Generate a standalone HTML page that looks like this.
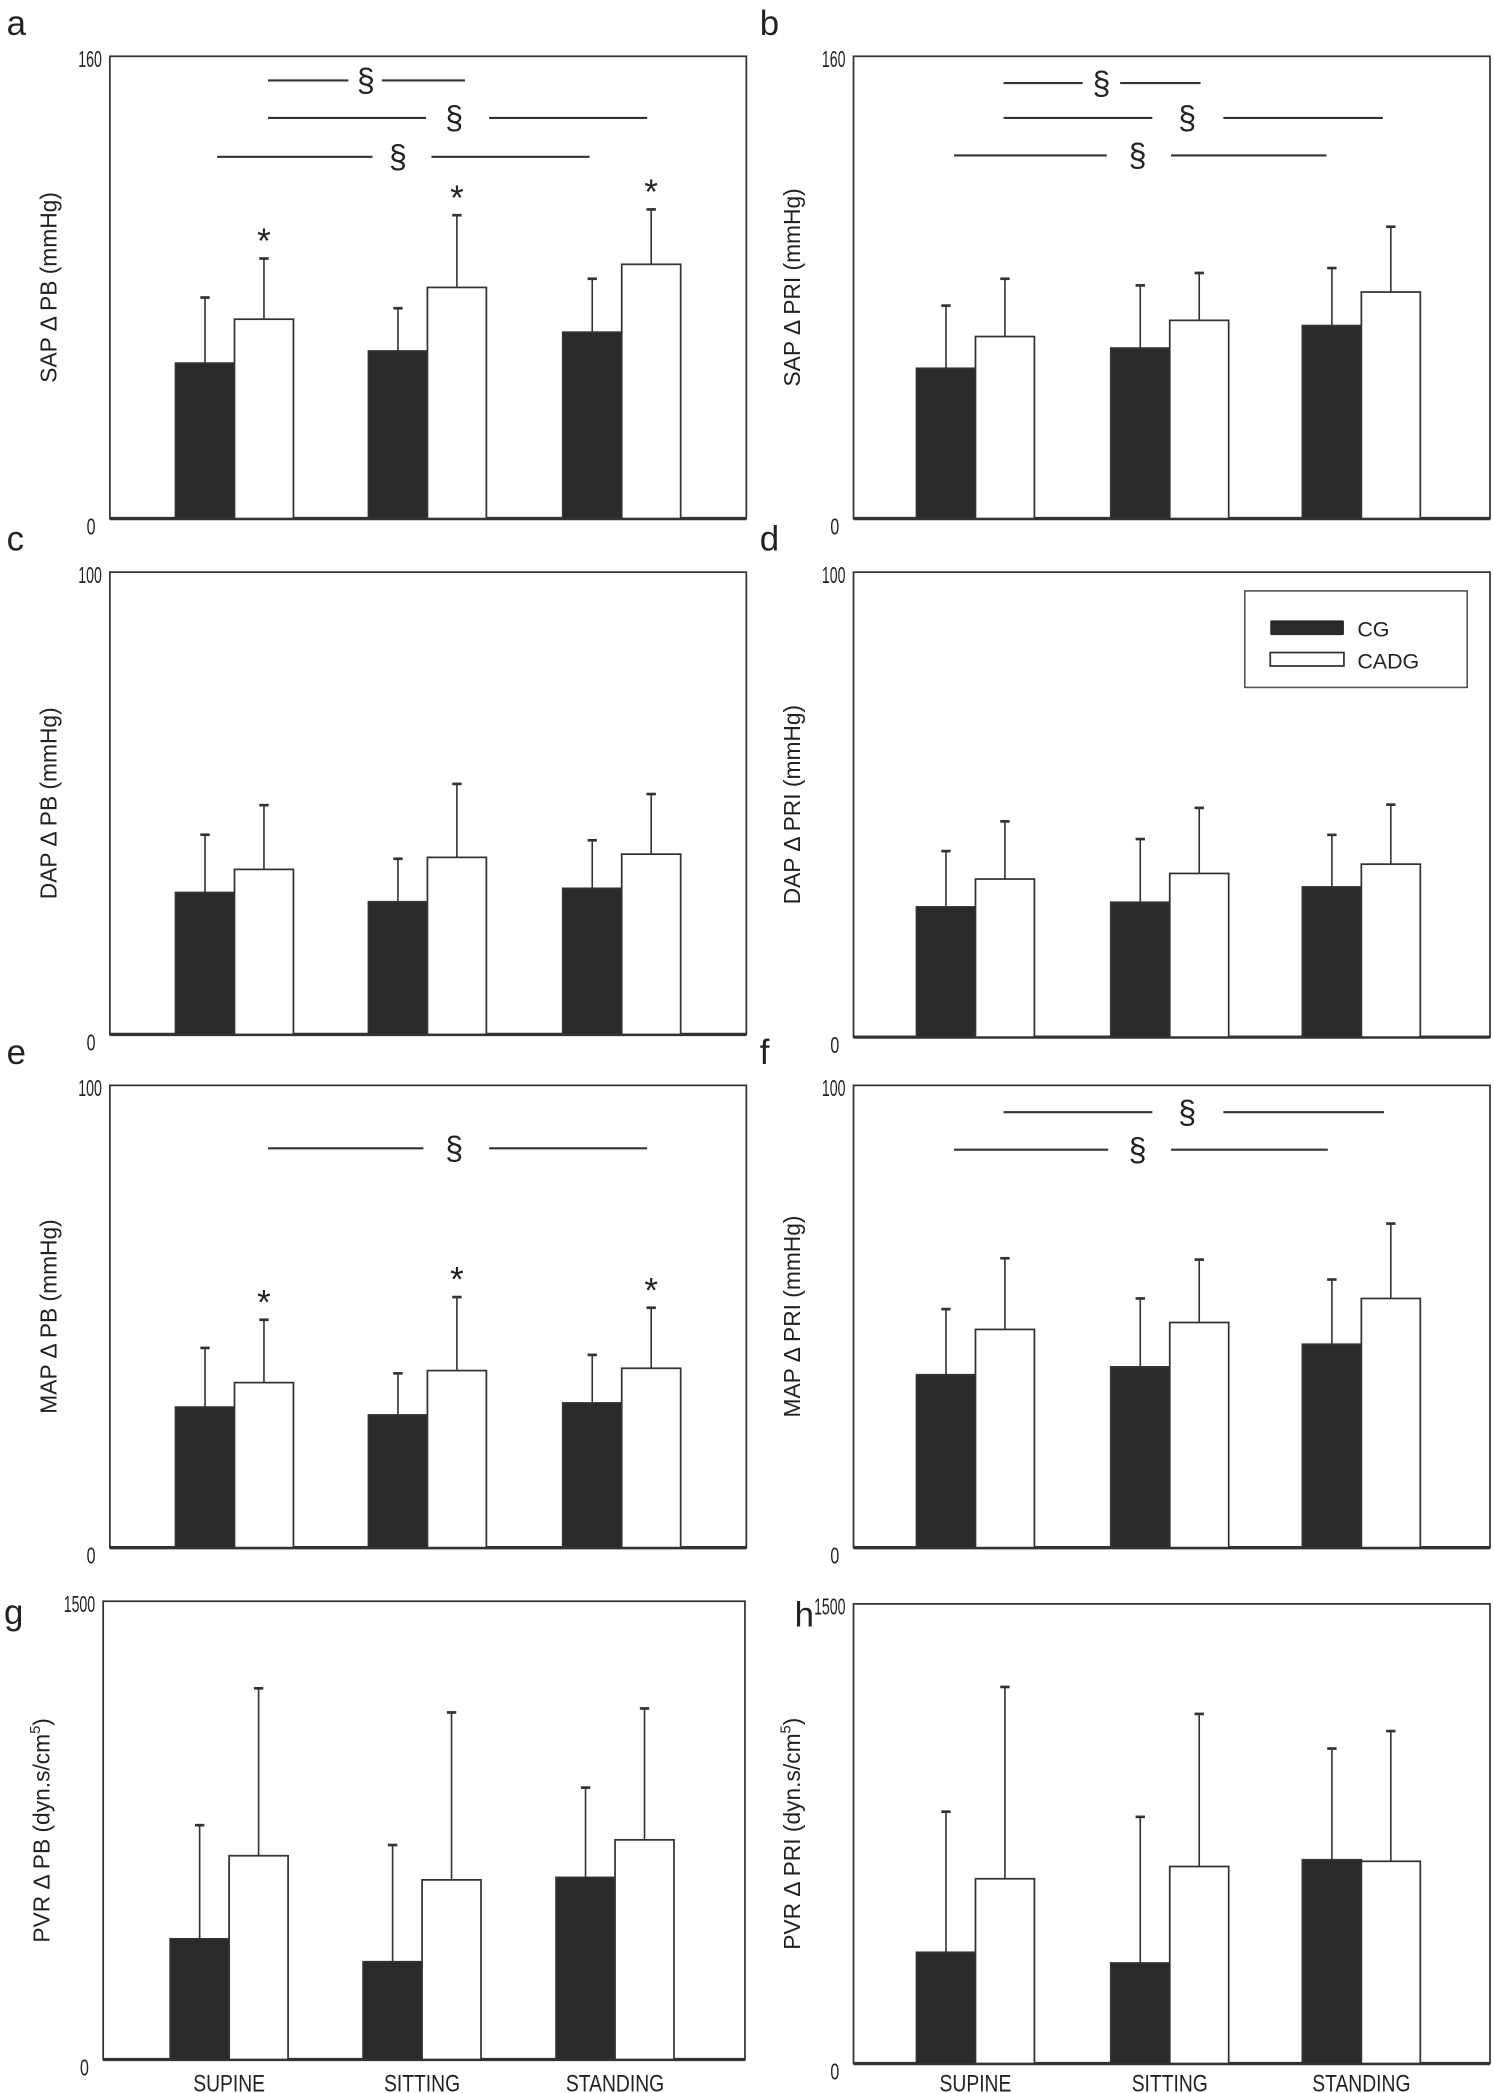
<!DOCTYPE html>
<html><head><meta charset="utf-8"><style>
html,body{margin:0;padding:0;background:#fff}
svg{display:block}
text{font-family:"Liberation Sans",sans-serif;fill:#222}
</style></head><body>
<svg id="fig" width="1494" height="2093" viewBox="0 0 1115 1562" preserveAspectRatio="none" xmlns="http://www.w3.org/2000/svg"></svg>
<script>
// Data (means and mean+SD tops), order: supine, sitting, standing
const categories = ["SUPINE","SITTING","STANDING"];
const aCG = [53.8,58,64.5], aCGerr=[76.5,72.8,83], aCADG=[69,80,88], aCADGerr=[90,105,107];
const bCG = [52,59,66.8], bCGerr=[73.7,80.7,86.7], bCADG=[63,68.6,78.4], bCADGerr=[83,85,101];
const cCG = [30.7,28.7,31.6], cCGerr=[43.2,38,42], cCADG=[35.7,38.3,39], cCADGerr=[49.6,54.2,52];
const dCG = [28,29,32.3], dCGerr=[40,42.6,43.5], dCADG=[34,35.2,37.2], dCADGerr=[46.4,49.3,50];
const eCG = [30.4,28.7,31.3], eCGerr=[43.2,37.7,41.7], eCADG=[35.7,38.3,38.8], eCADGerr=[49.3,54.2,51.9];
const fCG = [37.4,39.1,44], fCGerr=[51.6,53.9,58], fCADG=[47.2,48.7,53.9], fCADGerr=[62.6,62.3,70.1];
const gCG = [395,320,596], gCGerr=[767,702,890], gCADG=[667,588,719], gCADGerr=[1215,1136,1149];
const hCG = [363,328,665], hCGerr=[822,805,1028], hCADG=[603,643,660], hCADGerr=[1229,1141,1085];
const yMaxLabels = ["160","160","100","100","100","100","1500","1500"];

const NS="http://www.w3.org/2000/svg";
const svg=document.getElementById('fig');
function mk(tag,attrs,parent){const e=document.createElementNS(NS,tag);for(const k in attrs)e.setAttribute(k,attrs[k]);(parent||svg).appendChild(e);return e;}

const panels=[
 {id:'a',x0:82,x1:557,y0:42,y1:387,max:160,lx:5,ly:26,t:'SAP \u0394 PB (mmHg)',cg:aCG,cge:aCGerr,cd:aCADG,cde:aCADGerr,bx:[131,275,420],star:true,
  br:[[60,200,260,285,347,273],[88,200,318,365,483,339],[117,162,278,322,440,297]]},
 {id:'b',x0:637,x1:1112,y0:42,y1:387,max:160,lx:567,ly:26,t:'SAP \u0394 PRI (mmHg)',cg:bCG,cge:bCGerr,cd:bCADG,cde:bCADGerr,bx:[684,829,972],
  br:[[62,749,808,836,896,822],[88,749,860,913,1032,886],[116,712,826,874,990,849]]},
 {id:'c',x0:82,x1:557,y0:427,y1:772,max:100,lx:5,ly:411,t:'DAP \u0394 PB (mmHg)',cg:cCG,cge:cCGerr,cd:cCADG,cde:cCADGerr,bx:[131,275,420],br:[]},
 {id:'d',x0:637,x1:1112,y0:427,y1:774,max:100,lx:567,ly:411,t:'DAP \u0394 PRI (mmHg)',cg:dCG,cge:dCGerr,cd:dCADG,cde:dCADGerr,bx:[684,829,972],br:[],legend:true},
 {id:'e',x0:82,x1:557,y0:810,y1:1155,max:100,lx:5,ly:794,t:'MAP \u0394 PB (mmHg)',cg:eCG,cge:eCGerr,cd:eCADG,cde:eCADGerr,bx:[131,275,420],star:true,
  br:[[857,200,316,365,483,339]]},
 {id:'f',x0:637,x1:1112,y0:810,y1:1155,max:100,lx:567,ly:794,t:'MAP \u0394 PRI (mmHg)',cg:fCG,cge:fCGerr,cd:fCADG,cde:fCADGerr,bx:[684,829,972],
  br:[[830,749,860,913,1033,886],[858,712,827,874,991,849]]},
 {id:'g',x0:77,x1:556,y0:1195,y1:1537,max:1500,lx:3,ly:1212,t:'PVR \u0394 PB (dyn.s/cm',sup:true,cg:gCG,cge:gCGerr,cd:gCADG,cde:gCADGerr,bx:[127,271,415],br:[],xl:true},
 {id:'h',x0:637,x1:1112,y0:1197,y1:1540,max:1500,lx:593,ly:1214,t:'PVR \u0394 PRI (dyn.s/cm',sup:true,cg:hCG,cge:hCGerr,cd:hCADG,cde:hCADGerr,bx:[684,829,972],br:[],xl:true}
];
const BW=44;
panels.forEach((p,pi)=>{
  const g=mk('g',{});
  
  
  const y=v=>p.y1-(v/p.max)*(p.y1-p.y0);
  const lab=mk('text',{x:p.lx,y:p.ly,'font-size':26},g);
  
  lab.textContent=p.id;
  const fr=mk('rect',{x:p.x0,y:p.y0,width:p.x1-p.x0,height:p.y1-p.y0,fill:'none',stroke:'#333','stroke-width':1.3},g);
  
  mk('line',{x1:p.x0,x2:p.x1,y1:p.y1,y2:p.y1,stroke:'#333','stroke-width':2.5},g);
  const tx=p.x0-6;
  const t1=mk('text',{x:tx,y:p.y0+8,'font-size':17,'text-anchor':'end',transform:`translate(${tx},0) scale(0.62,1) translate(${-tx},0)`},g);
  
  t1.textContent=yMaxLabels[pi];
  const t0x=p.x0-14;
  const t0=mk('text',{x:t0x,y:p.y1+12,'font-size':17,'text-anchor':'middle',transform:`translate(${t0x},0) scale(0.7,1) translate(${-t0x},0)`},g);
  
  t0.textContent='0';
  const cx=p.x0-40, cy=(p.y0+p.y1)/2;
  const yt=mk('text',{x:cx,y:cy,'font-size':17,'text-anchor':'middle',transform:`rotate(-90 ${cx} ${cy})`},g);
  
  yt.textContent=p.t;
  if(p.sup){const s=mk('tspan',{'font-size':11,dy:-7},yt);s.textContent='5';const s2=mk('tspan',{dy:7},yt);s2.textContent=')';}
  for(let i=0;i<3;i++){
    const x=p.bx[i];
    [[p.cg,p.cge,'#2a2a2a',x,'cg'],[p.cd,p.cde,'#fff',x+BW,'cadg']].forEach(([vals,errs,fill,bx,nm])=>{
      const ex=bx+BW/2;
      const el=mk('line',{x1:ex,x2:ex,y1:y(errs[i]),y2:y(vals[i]),stroke:'#333','stroke-width':1.2},g);
      
      mk('line',{x1:ex-3.5,x2:ex+3.5,y1:y(errs[i]),y2:y(errs[i]),stroke:'#333','stroke-width':2},g);
      const r=mk('rect',{x:bx,y:y(vals[i]),width:BW,height:y(0)-y(vals[i]),fill:fill,stroke:'#333','stroke-width':1.3},g);
      
      
    });
    if(p.star){
      const st=mk('text',{x:p.bx[i]+BW*1.5,y:y(p.cde[i])-4,'font-size':26,'text-anchor':'middle','font-family':'Liberation Sans'},g);
      
      st.textContent='*';
    }
    if(p.xl){
      const lx=p.bx[i]+BW;
      const xl=mk('text',{x:lx,y:1561,'font-size':18,'text-anchor':'middle',transform:`translate(${lx},0) scale(0.8,1) translate(${-lx},0)`},g);
      
      xl.textContent=categories[i];
    }
  }
  p.br.forEach(b=>{
    mk('line',{x1:b[1],x2:b[2],y1:b[0],y2:b[0],stroke:'#333','stroke-width':1.6},g);
    mk('line',{x1:b[3],x2:b[4],y1:b[0],y2:b[0],stroke:'#333','stroke-width':1.6},g);
    const s=mk('text',{x:b[5],y:b[0]+8,'font-size':24,'text-anchor':'middle','font-family':'Liberation Serif'},g);
    
    s.textContent='\u00a7';
  });
  if(p.legend){
    const lg=mk('g',{},g);
    
    mk('rect',{x:929,y:441,width:166,height:72,fill:'#fff',stroke:'#555','stroke-width':1.2},lg);
    mk('rect',{x:948,y:463,width:55,height:11,fill:'#2a2a2a',rx:1},lg);
    mk('rect',{x:948,y:487,width:55,height:10,fill:'#fff',stroke:'#333','stroke-width':1.3},lg);
    const l1=mk('text',{x:1013,y:475,'font-size':16},lg);l1.textContent='CG';
    
    const l2=mk('text',{x:1013,y:499,'font-size':16},lg);l2.textContent='CADG';
    
  }
});
</script>
</body></html>
